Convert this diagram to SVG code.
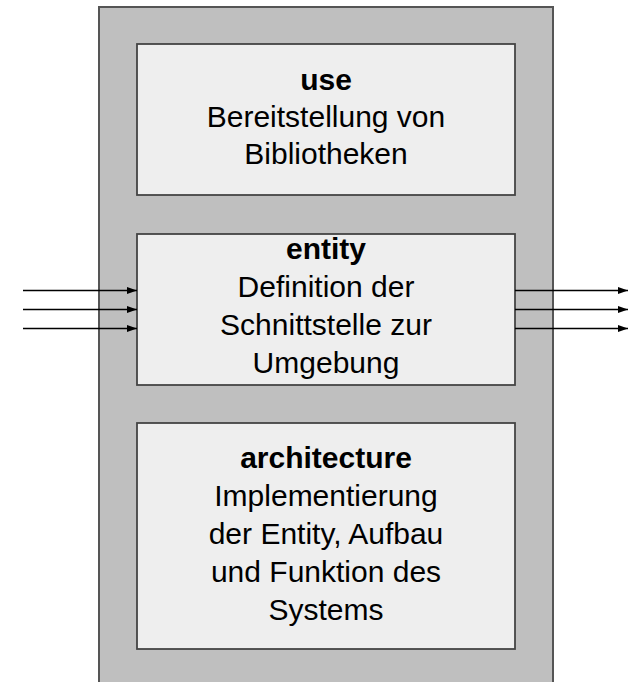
<svg xmlns="http://www.w3.org/2000/svg" width="631" height="682" viewBox="0 0 631 682">
<defs>
<style>
.frame{fill:#bfbfbf;stroke:#555;stroke-width:2}
.box{fill:#eeeeee;stroke:#444;stroke-width:1.8}
text{font-family:"Liberation Sans",Arial,sans-serif;font-size:30px;fill:#000;text-anchor:middle}
.b{font-weight:bold}
.c{stroke:#000;stroke-width:1.3;fill:none;marker-end:url(#ah)}
</style>
<marker id="ah" viewBox="0 0 10 7" refX="10" refY="3.5" markerWidth="10" markerHeight="7" markerUnits="userSpaceOnUse" orient="auto">
<path d="M0,0 L10,3.5 L0,7 Z" fill="#000"/>
</marker>
</defs>
<rect width="631" height="682" fill="#fff"/>
<g id="frame"><rect class="frame" x="99" y="7" width="454" height="690"/></g>
<g id="use">
<rect class="box" x="137" y="44" width="378" height="151"/>
<text x="326" y="90" class="b">use</text>
<text x="326" y="127">Bereitstellung von</text>
<text x="326" y="164">Bibliotheken</text>
</g>
<g id="entity">
<rect class="box" x="137" y="234" width="378" height="151"/>
<text x="326" y="259" class="b">entity</text>
<text x="326" y="297">Definition der</text>
<text x="326" y="335">Schnittstelle zur</text>
<text x="326" y="373">Umgebung</text>
</g>
<g id="architecture">
<rect class="box" x="137" y="423" width="378" height="226"/>
<text x="326" y="468" class="b">architecture</text>
<text x="326" y="506">Implementierung</text>
<text x="326" y="544">der Entity, Aufbau</text>
<text x="326" y="582">und Funktion des</text>
<text x="326" y="620">Systems</text>
</g>
<g id="connectors">
<line class="c" x1="23" y1="290.5" x2="137" y2="290.5"/>
<line class="c" x1="23" y1="309.5" x2="137" y2="309.5"/>
<line class="c" x1="23" y1="328.5" x2="137" y2="328.5"/>
<line class="c" x1="515" y1="290.5" x2="628" y2="290.5"/>
<line class="c" x1="515" y1="309.5" x2="628" y2="309.5"/>
<line class="c" x1="515" y1="328.5" x2="628" y2="328.5"/>
</g>
</svg>
